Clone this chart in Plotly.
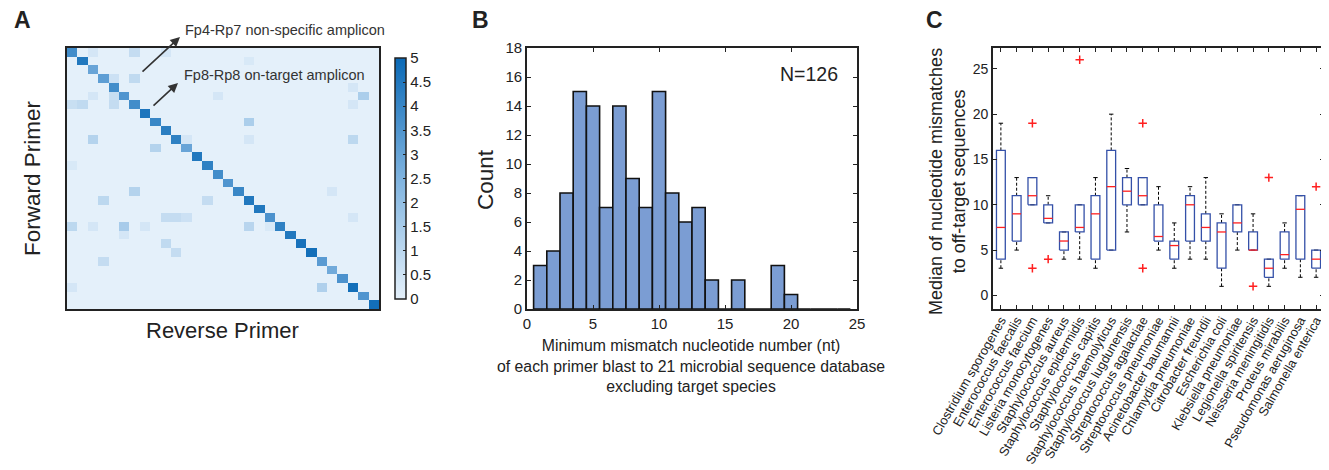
import numpy as np
import plotly.graph_objects as go

# page body has an 8px margin, so the figure is drawn 8px smaller and all
# positions below are given in screenshot pixels and shifted back
PAD = 8
W, H = 1329 - PAD, 470 - PAD
FONT = "Liberation Sans, Arial, Helvetica, sans-serif"


def fx(p):
    return (p - PAD) / W


def fy(p):
    return 1 - (p - PAD) / H


# ---- panel A: primer cross-reactivity matrix (30 x 30)
n_primer = 30
diag_vals = [3.8, 4.5, 3.0, 3.2, 3.8, 3.5, 3.8, 4.6, 4.0, 4.3,
             4.2, 3.0, 4.5, 4.2, 3.8, 3.5, 4.0, 4.5, 4.5, 3.6,
             4.2, 4.5, 4.7, 4.8, 3.3, 2.8, 3.6, 4.8, 3.5, 4.8]
off_rows = [0, 0, 0, 1, 3, 3, 4, 5, 5, 5, 5, 6, 6, 6, 6, 8, 10, 10, 10, 10,
            11, 13, 16, 16, 17, 17, 19, 19, 19, 19, 20, 20, 20, 20, 20, 20,
            21, 22, 23, 24, 27, 27]
off_cols = [2, 6, 9, 17, 4, 6, 27, 2, 4, 14, 28, 0, 1, 4, 27, 17, 2, 11, 17, 27,
            8, 0, 6, 25, 3, 13, 9, 10, 11, 27, 0, 2, 5, 7, 17, 19,
            5, 9, 10, 3, 0, 24]
off_vals = [0.4, 0.8, 0.4, 0.3, 0.6, 0.9, 0.4, 0.4, 0.7, 0.4, 1.4, 0.7, 0.9, 0.8, 0.4, 1.4, 1.2, 0.4, 0.4, 1.0,
            1.2, 0.3, 1.2, 0.4, 1.0, 0.8, 0.8, 0.8, 0.6, 0.4, 1.0, 0.4, 1.5, 0.4, 1.1, 0.3,
            0.4, 0.9, 0.8, 0.8, 0.4, 1.3]

z = np.zeros((n_primer, n_primer))
for i, v in enumerate(diag_vals):
    z[i, i] = v
for r, c, v in zip(off_rows, off_cols, off_vals):
    z[r, c] = v

# ---- panel B: histogram of minimum mismatch counts
bin_centers = list(range(1, 25))
bin_counts = [3, 4, 8, 15, 14, 7, 14, 9, 7, 15, 8, 6, 7, 2, 0, 2, 0, 0, 3, 1, 0, 0, 0, 0]

# ---- panel C: boxplot summary per species
species = ["Clostridium sporogenes", "Enterococcus faecalis", "Enterococcus faecium",
           "Listeria monocytogenes", "Staphylococcus aureus", "Staphylococcus epidermidis",
           "Staphylococcus capitis", "Staphylococcus haemolyticus", "Staphylococcus lugdunensis",
           "Streptococcus agalactiae", "Streptococcus pneumoniae", "Acinetobacter baumannii",
           "Chlamydia pneumoniae", "Citrobacter freundii", "Escherichia coli",
           "Klebsiella pneumoniae", "Legionella spiritensis", "Neisseria meningitidis",
           "Proteus mirabilis", "Pseudomonas aeruginosa", "Salmonella enterica"]
q1 =      [4, 6, 10, 8, 5, 7, 4, 5, 10, 10, 6, 4, 6, 6, 3, 7, 5, 2, 4, 4, 3]
med =     [7.5, 9, 11, 8.5, 6, 7.5, 9, 12, 11.5, 11, 6.5, 5.5, 10, 7.5, 7, 8, 5, 3, 4.5, 9.5, 4]
q3 =      [16, 11, 13, 10, 7, 10, 11, 16, 13, 13, 10, 6, 11, 9, 8, 10, 7, 4, 7, 11, 5]
wlo =     [3, 5, 10, 8, 4, 4, 3, 5, 7, 10, 5, 3, 4, 4, 1, 5, 5, 1, 3, 2, 2]
whi =     [19, 13, 13, 11, 7, 10, 13, 20, 14, 13, 12, 8, 12, 13, 9, 10, 9, 4, 8, 11, 5]
out_idx = [3, 3, 4, 6, 10, 10, 17, 18, 21]
out_val = [19, 3, 4, 26, 19, 3, 1, 13, 12]

fig = go.Figure()

# A
fig.add_trace(go.Heatmap(
    z=z, x=list(range(1, n_primer + 1)), y=list(range(1, n_primer + 1)),
    zmin=0, zmax=5, xaxis="x", yaxis="y",
    colorscale=[[0, "#e4f0fa"], [0.5, "#7fb3df"], [1, "#0a69b6"]],
    colorbar=dict(x=fx(385), xanchor="left", thickness=11, thicknessmode="pixels",
                  len=261, lenmode="pixels", y=fy(178.5), yanchor="middle",
                  outlinecolor="#222", outlinewidth=1.5, tickmode="array",
                  tickvals=[0, 0.5, 1, 1.5, 2, 2.5, 3, 3.5, 4, 4.5, 5],
                  ticktext=["0", "0.5", "1", "1.5", "2", "2.5", "3", "3.5", "4", "4.5", "5"],
                  ticks="inside", ticklen=3, tickcolor="#222",
                  tickfont=dict(size=15, color="#222", family=FONT)),
    showscale=True, hoverinfo="z"))

# B
fig.add_trace(go.Bar(x=bin_centers, y=bin_counts, width=1, xaxis="x2", yaxis="y2",
                     marker=dict(color="#7b9dd3", line=dict(color="#111", width=1.6)),
                     showlegend=False))

# C
hw = 0.28
for i in range(len(species)):
    xc = i + 1
    # whiskers
    fig.add_trace(go.Scatter(x=[xc, xc, None, xc, xc], y=[q3[i], whi[i], None, wlo[i], q1[i]],
                             mode="lines", line=dict(color="black", width=1, dash="3px,2px"),
                             xaxis="x3", yaxis="y3", showlegend=False, hoverinfo="skip"))
    fig.add_trace(go.Scatter(x=[xc - hw / 2, xc + hw / 2, None, xc - hw / 2, xc + hw / 2],
                             y=[whi[i], whi[i], None, wlo[i], wlo[i]],
                             mode="lines", line=dict(color="black", width=1),
                             xaxis="x3", yaxis="y3", showlegend=False, hoverinfo="skip"))
    # box
    fig.add_trace(go.Scatter(x=[xc - hw, xc + hw, xc + hw, xc - hw, xc - hw],
                             y=[q1[i], q1[i], q3[i], q3[i], q1[i]],
                             mode="lines", line=dict(color="#3450a8", width=1.3),
                             xaxis="x3", yaxis="y3", showlegend=False, hoverinfo="skip"))
    # median
    fig.add_trace(go.Scatter(x=[xc - hw, xc + hw], y=[med[i], med[i]],
                             mode="lines", line=dict(color="#ff2020", width=1.3),
                             xaxis="x3", yaxis="y3", showlegend=False, hoverinfo="skip"))

fig.add_trace(go.Scatter(x=out_idx, y=out_val, mode="markers",
                         marker=dict(symbol="cross-thin", size=6, line=dict(color="#ff2020", width=1.5)),
                         xaxis="x3", yaxis="y3", showlegend=False))

frame = dict(showline=True, linecolor="#222", linewidth=1.6, mirror="ticks",
             ticks="inside", tickcolor="#222", showgrid=False, zeroline=False,
             automargin=False, tickfont=dict(size=15, color="#222", family=FONT))

top, bot = fy(48), fy(309)
fig.update_layout(
    template="none",
    width=W, height=H, margin=dict(l=0, r=0, t=0, b=0, autoexpand=False),
    paper_bgcolor="white", plot_bgcolor="white", showlegend=False,
    font=dict(family=FONT, color="#222"),
    xaxis=dict(domain=[fx(67), fx(379)], range=[0.5, n_primer + 0.5], showticklabels=False,
               showline=True, mirror=True, linecolor="#222", linewidth=2.2, ticks="",
               showgrid=False, zeroline=False, automargin=False),
    yaxis=dict(domain=[bot, top], range=[n_primer + 0.5, 0.5], showticklabels=False,
               showline=True, mirror=True, linecolor="#222", linewidth=2.2, ticks="",
               showgrid=False, zeroline=False, automargin=False),
    xaxis2=dict(frame, domain=[fx(527), fx(857)], range=[0, 25], tickvals=[0, 5, 10, 15, 20, 25],
                ticklen=4, anchor="y2"),
    yaxis2=dict(frame, domain=[bot, top], range=[0, 18], tickvals=list(range(0, 19, 2)),
                ticklen=4, anchor="x2"),
    xaxis3=dict(frame, domain=[fx(993), fx(1324)], range=[0.5, 21.5],
                tickvals=list(range(1, 22)), ticktext=species, tickangle=-60, ticklen=4,
                ticklabelstandoff=-3,
                tickfont=dict(size=12.8, color="#222", family=FONT), anchor="y3"),
    yaxis3=dict(frame, domain=[bot, top], range=[-1.5, 27.3], tickvals=[0, 5, 10, 15, 20, 25],
                ticklen=4, tickfont=dict(size=14, color="#222", family=FONT), anchor="x3"),
)

ann = [
    dict(text="<b>A</b>", x=fx(12), y=fy(20), xanchor="left", font=dict(size=23)),
    dict(text="<b>B</b>", x=fx(470), y=fy(20), xanchor="left", font=dict(size=23)),
    dict(text="<b>C</b>", x=fx(924), y=fy(20), xanchor="left", font=dict(size=23)),
    dict(text="Forward Primer", x=fx(32), y=fy(178), textangle=-90, font=dict(size=22.5)),
    dict(text="Reverse Primer", x=fx(222), y=fy(330), font=dict(size=22)),
    dict(text="Fp4-Rp7 non-specific amplicon", x=fx(183), y=fy(30), xanchor="left",
         font=dict(size=14.5, color="#333")),
    dict(text="Fp8-Rp8 on-target amplicon", x=fx(182), y=fy(75), xanchor="left",
         font=dict(size=14.5, color="#333")),
    dict(text="Count", x=fx(485), y=fy(180), textangle=-90, font=dict(size=22.5)),
    dict(text="N=126", x=fx(840), y=fy(74), xanchor="right", font=dict(size=19.5)),
    dict(text="Minimum mismatch nucleotide number (nt)<br>of each primer blast to 21 microbial sequence database<br>excluding target species",
         x=fx(691), y=fy(366), font=dict(size=15.8)),
    dict(text="Median of nucleotide mismatches<br>to off-target sequences", x=fx(948), y=fy(181),
         textangle=-90, font=dict(size=18)),
]
for a in ann:
    a.update(xref="paper", yref="paper", showarrow=False)
    a.setdefault("xanchor", "center")
    a["yanchor"] = "middle"

# arrows pointing to the labels
ann.append(dict(x=fx(180), y=fy(37), xref="paper", yref="paper", ax=-39, ay=36, text="",
                showarrow=True, arrowhead=2, arrowsize=1.2, arrowwidth=1.6, arrowcolor="#333"))
ann.append(dict(x=fx(178), y=fy(83), xref="paper", yref="paper", ax=-26, ay=24, text="",
                showarrow=True, arrowhead=2, arrowsize=1.2, arrowwidth=1.6, arrowcolor="#333"))
fig.update_layout(annotations=ann)

fig.write_html("out.html")
